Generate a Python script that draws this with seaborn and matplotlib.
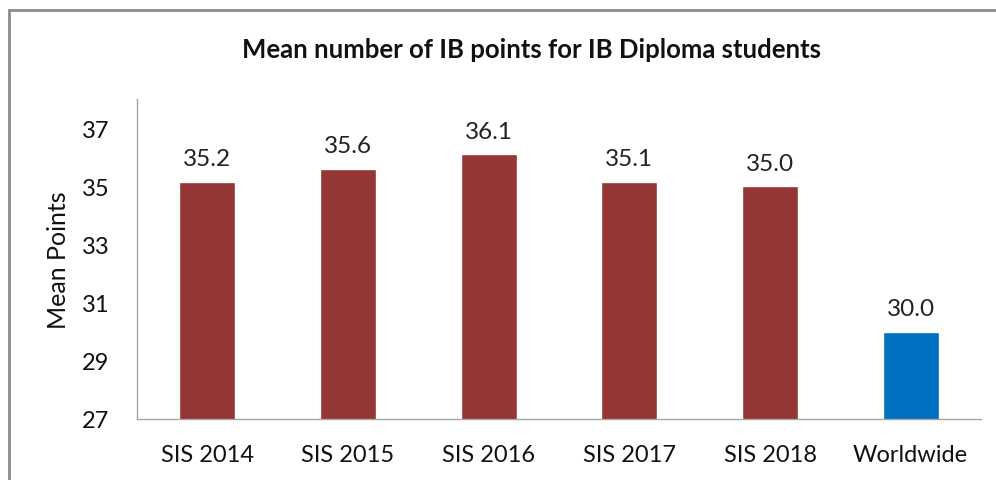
import matplotlib
matplotlib.use("Agg")
from matplotlib import pyplot as plt
from matplotlib.patches import Rectangle
import seaborn as sns
import pandas as pd

categories = ["SIS 2014", "SIS 2015", "SIS 2016", "SIS 2017", "SIS 2018", "Worldwide"]
mean_points = [35.15, 35.6, 36.1, 35.15, 35.0, 30.0]
value_labels = ["35.2", "35.6", "36.1", "35.1", "35.0", "30.0"]
bar_colors = ["#943634", "#943634", "#943634", "#943634", "#943634", "#0070C0"]
y_ticks = [27, 29, 31, 33, 35, 37]

df = pd.DataFrame({"group": categories, "points": mean_points})

sns.set_style("white")
plt.rcParams["font.family"] = ["Lato", "DejaVu Sans"]

fig = plt.figure(figsize=(9.96, 4.81), dpi=100)
ax = fig.add_axes([137 / 996, 1 - 420 / 481, 844 / 996, 320 / 481])

sns.barplot(data=df, x="group", y="points", hue="group", palette=bar_colors,
            width=0.4, legend=False, ax=ax, saturation=1)

for i, (v, lab) in enumerate(zip(mean_points, value_labels)):
    ax.annotate(lab, (i, v), xytext=(0, 9), textcoords="offset points",
                ha="center", va="bottom", fontsize=17.5, color="#222222")

ax.set_ylim(27, 38)
ax.set_xlim(-0.5, 5.5)
ax.set_yticks(y_ticks)
ax.tick_params(axis="both", length=0, labelsize=17, colors="#111111")
ax.tick_params(axis="y", pad=20)
ax.tick_params(axis="x", pad=18)
ax.set_xlabel("")
ax.set_ylabel("Mean Points", fontsize=18, labelpad=8, color="#111111")

for s in ["top", "right"]:
    ax.spines[s].set_visible(False)
for s in ["left", "bottom"]:
    ax.spines[s].set_color("#A6A6A6")
    ax.spines[s].set_linewidth(1.0)

fig.text(531 / 996, 1 - 50 / 481, "Mean number of IB points for IB Diploma students",
         ha="center", va="center", fontsize=18.5, fontweight="bold", color="#111111")

# chart frame (cut off at right and bottom in the original)
fig.patches.append(Rectangle((9 / 996, -0.1), 1.2, 1 - 11 / 481 + 0.1,
                             transform=fig.transFigure, fill=False,
                             edgecolor="#8C8C8C", linewidth=2.0))

plt.savefig("out.png", dpi=100)
